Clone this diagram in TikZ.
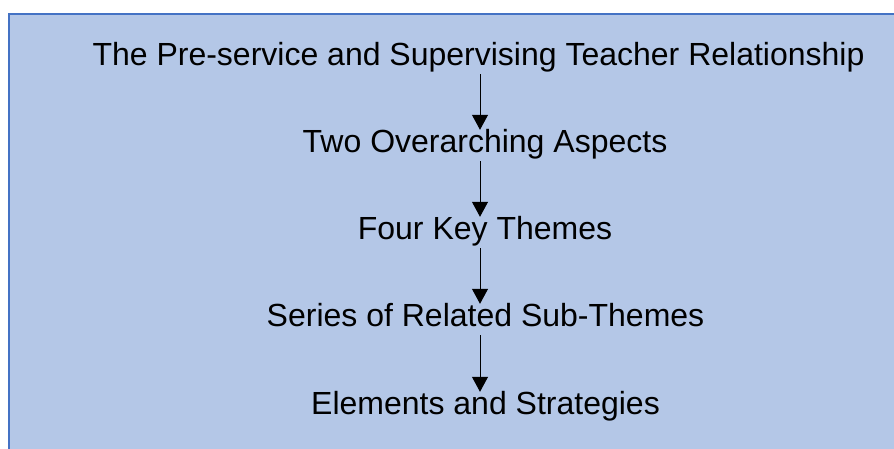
\documentclass[tikz,border=0pt]{standalone}
\usepackage{fontspec}
\setmainfont{Liberation Sans}
\usepackage{xcolor}
\usetikzlibrary{arrows.meta}

\definecolor{panelfill}{HTML}{B4C7E7}
\definecolor{panelline}{HTML}{4472C4}

\tikzset{
  level/.style={inner sep=0pt, anchor=base, text height=22pt, text depth=9pt,
    font=\fontsize{32}{38}\selectfont},
  down/.style={-{Triangle[width=16pt,length=15pt]}, line width=1pt}
}

\begin{document}
\begin{tikzpicture}[x=1pt,y=-1pt]
                \useasboundingbox (0,0) rectangle (894,448);
                \filldraw[fill=panelfill, draw=panelline, line width=1.5pt] (9,14) rectangle (898,452);
                \coordinate (axis) at (480,0);
                \node[level] (rel) at (478.5,65) {The Pre-service and Supervising Teacher Relationship};
                \node[level] (asp) at (485,152) {Two Overarching Aspects};
                \node[level] (thm) at (485,239) {Four Key Themes};
                \node[level] (sub) at (485.5,326) {Series of Related Sub-Themes};
                \node[level] (elm) at (485.5,414) {Elements and Strategies};
                \draw[down] (rel.south -| axis) -- (asp.north -| axis);
                \draw[down] (asp.south -| axis) -- (thm.north -| axis);
                \draw[down] (thm.south -| axis) -- (sub.north -| axis);
                \draw[down] (sub.south -| axis) -- (elm.north -| axis);
            \end{tikzpicture}
\end{document}
